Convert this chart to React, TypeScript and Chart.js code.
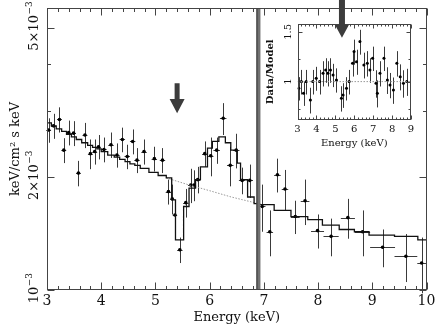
import React, { useEffect, useRef } from "react";
import { Chart, registerables } from "chart.js";

Chart.register(...registerables);

const FONT = '"DejaVu Serif", "Liberation Serif", serif';

// ---------- main spectrum (flux in units of 1e-3 keV/cm² s keV) ----------
const energy = [3.03, 3.12, 3.23, 3.31, 3.4, 3.49, 3.58, 3.7, 3.8, 3.88, 3.95, 4.05, 4.18, 4.29, 4.39, 4.48, 4.58, 4.66, 4.79, 4.98, 5.13, 5.24, 5.31, 5.36, 5.45, 5.56, 5.65, 5.71, 5.78, 5.91, 6.02, 6.13, 6.25, 6.38, 6.49, 6.6, 6.74, 6.97, 7.11, 7.25, 7.39, 7.58, 7.76, 7.99, 8.24, 8.55, 8.82, 9.19, 9.62, 9.91];
const energyErr = [0.045, 0.045, 0.045, 0.045, 0.045, 0.045, 0.045, 0.045, 0.045, 0.045, 0.045, 0.05, 0.05, 0.05, 0.05, 0.05, 0.05, 0.05, 0.05, 0.05, 0.05, 0.05, 0.04, 0.04, 0.05, 0.05, 0.05, 0.04, 0.05, 0.05, 0.05, 0.06, 0.06, 0.06, 0.06, 0.06, 0.06, 0.06, 0.06, 0.06, 0.06, 0.08, 0.08, 0.12, 0.14, 0.13, 0.14, 0.23, 0.21, 0.08];
const flux = [2.67, 2.74, 2.85, 2.36, 2.63, 2.62, 2.05, 2.59, 2.31, 2.34, 2.41, 2.37, 2.44, 2.29, 2.52, 2.27, 2.49, 2.22, 2.34, 2.24, 2.22, 1.83, 1.75, 1.585, 1.28, 1.71, 1.905, 1.905, 1.97, 2.31, 2.28, 2.36, 2.87, 2.15, 2.36, 1.96, 1.96, 1.67, 1.43, 2.03, 1.86, 1.57, 1.73, 1.44, 1.39, 1.56, 1.43, 1.3, 1.23, 1.18];
const fluxErr = [0.2, 0.21, 0.22, 0.18, 0.2, 0.2, 0.16, 0.2, 0.21, 0.18, 0.18, 0.18, 0.19, 0.17, 0.19, 0.17, 0.19, 0.17, 0.18, 0.17, 0.17, 0.14, 0.16, 0.12, 0.1, 0.15, 0.2, 0.18, 0.16, 0.18, 0.27, 0.19, 0.28, 0.26, 0.25, 0.16, 0.2, 0.24, 0.2, 0.21, 0.23, 0.16, 0.24, 0.15, 0.16, 0.19, 0.2, 0.15, 0.18, 0.2];

// best-fit model (histogram: level holds from each edge to the next)
const modelEdges = [3.0, 3.08, 3.17, 3.27, 3.36, 3.45, 3.54, 3.64, 3.75, 3.84, 3.92, 4.0, 4.12, 4.24, 4.34, 4.44, 4.53, 4.62, 4.72, 4.88, 5.05, 5.2, 5.3, 5.37, 5.52, 5.62, 5.74, 5.83, 5.96, 6.05, 6.17, 6.29, 6.39, 6.51, 6.57, 6.7, 6.82, 6.92, 7.19, 7.5, 7.81, 8.08, 8.39, 8.67, 8.94, 9.41, 9.84, 10.0];
const modelLevels = [2.79, 2.74, 2.69, 2.65, 2.6, 2.56, 2.52, 2.47, 2.43, 2.4, 2.38, 2.34, 2.29, 2.26, 2.23, 2.2, 2.17, 2.15, 2.11, 2.06, 2.02, 1.99, 1.74, 1.36, 1.67, 1.87, 1.97, 2.13, 2.39, 2.49, 2.56, 2.47, 2.36, 2.18, 1.97, 1.77, 1.7, 1.69, 1.63, 1.57, 1.54, 1.49, 1.45, 1.43, 1.4, 1.39, 1.36, 1.36];

// underlying continuum (dotted)
const contEnergy = [5.2, 5.6, 6.0, 6.4, 6.9];
const contFlux = [1.99, 1.91, 1.84, 1.77, 1.7];

const xTickValues = [3, 4, 5, 6, 7, 8, 9, 10];
const yMajorTicks = [1, 2, 5];
const yTickLabels = [["10", "−3"], ["2×10", "−3"], ["5×10", "−3"]];
const yMinorTicks = [3, 4];

// annotations
const markerEnergy = 6.9;
const arrowEnergy = 5.4;
const arrowFlux = [3.56, 3.23, 2.96]; // top, neck, tip

// ---------- inset: data / model ratio ----------
const ratioEnergy = [3.07, 3.2, 3.32, 3.46, 3.68, 3.81, 3.99, 4.17, 4.35, 4.49, 4.61, 4.74, 4.88, 5.06, 5.32, 5.41, 5.59, 5.73, 5.91, 5.99, 6.12, 6.3, 6.51, 6.69, 6.83, 6.97, 7.15, 7.22, 7.36, 7.57, 7.75, 7.89, 8.07, 8.25, 8.43, 8.6, 8.78];
const ratioValue = [0.947, 1.0, 0.91, 1.0, 0.861, 1.0, 1.028, 1.0, 1.071, 1.1, 1.071, 1.1, 1.056, 1.014, 0.873, 0.897, 0.947, 1.0, 1.162, 1.278, 1.177, 1.386, 1.146, 1.162, 1.1, 1.21, 0.987, 0.91, 1.071, 1.21, 1.014, 0.973, 0.934, 1.162, 1.041, 0.987, 1.0];
const ratioErr = [0.09, 0.1, 0.09, 0.1, 0.09, 0.1, 0.1, 0.1, 0.11, 0.11, 0.11, 0.11, 0.1, 0.1, 0.09, 0.09, 0.09, 0.1, 0.12, 0.13, 0.12, 0.14, 0.12, 0.12, 0.11, 0.12, 0.11, 0.1, 0.11, 0.12, 0.11, 0.1, 0.1, 0.12, 0.11, 0.11, 0.11];
const ratioEnergyErr = 0.05;
const insetXTicks = [3, 4, 5, 6, 7, 8, 9];
const insetYMajor = [1, 1.5];
const insetYLabels = ["1", "1.5"];
const insetYMinor = [0.8, 1.2];
const insetArrowEnergy = 5.35;
const insetArrowRatio = [1.95, 1.589, 1.429];

function drawRotated(ctx: CanvasRenderingContext2D, cx: number, cy: number, base: string, sup: string, size: number, supSize: number, weight = "") {
  ctx.save();
  ctx.translate(cx, cy);
  ctx.rotate(-Math.PI / 2);
  ctx.font = `${weight} ${size}px ${FONT}`;
  const w1 = ctx.measureText(base).width;
  ctx.textAlign = "left";
  ctx.textBaseline = "alphabetic";
  const sx = -w1 / 2;
  ctx.fillText(base, sx, size * 0.36);
  if (sup) {
    ctx.font = `${weight} ${supSize}px ${FONT}`;
    ctx.fillText(sup, sx + w1 + 0.5, size * 0.36 - size * 0.42);
  }
  ctx.restore();
}

function minorSteps(from: number, to: number, step: number) {
  const out: number[] = [];
  for (let v = from; v <= to + 1e-9; v += step) {
    const r = Math.round(v * 10) / 10;
    if (Math.abs(r - Math.round(r)) > 1e-6) out.push(r);
  }
  return out;
}

const mainPlugin = {
  id: "mainDecor",
  beforeDatasetsDraw(chart: any) {
    const { ctx, scales } = chart;
    const x = scales.x, y = scales.y;
    ctx.save();
    ctx.strokeStyle = "#3a3a3a";
    ctx.lineWidth = 1;
    energy.forEach((e, i) => {
      const px = Math.round(x.getPixelForValue(e)) + 0.5;
      const py = Math.round(y.getPixelForValue(flux[i])) + 0.5;
      ctx.beginPath();
      ctx.moveTo(x.getPixelForValue(e - energyErr[i]), py);
      ctx.lineTo(x.getPixelForValue(e + energyErr[i]), py);
      ctx.moveTo(px, y.getPixelForValue(flux[i] - fluxErr[i]));
      ctx.lineTo(px, y.getPixelForValue(flux[i] + fluxErr[i]));
      ctx.stroke();
    });
    ctx.restore();
  },
  afterDatasetsDraw(chart: any) {
    const { ctx, scales, chartArea: a } = chart;
    const x = scales.x, y = scales.y;
    ctx.save();
    // marker line
    const mx = x.getPixelForValue(markerEnergy);
    ctx.fillStyle = "#727272";
    ctx.fillRect(mx - 2, a.top, 4, a.bottom - a.top);
    ctx.fillStyle = "#333";
    ctx.fillRect(mx - 2, a.top, 1, a.bottom - a.top);
    // arrow
    const ax = x.getPixelForValue(arrowEnergy);
    const [t, n, tip] = arrowFlux.map((v) => y.getPixelForValue(v));
    ctx.fillStyle = "#3c3c3c";
    ctx.beginPath();
    ctx.moveTo(ax - 2.5, t);
    ctx.lineTo(ax + 2.5, t);
    ctx.lineTo(ax + 2.5, n);
    ctx.lineTo(ax + 7.5, n);
    ctx.lineTo(ax, tip);
    ctx.lineTo(ax - 7.5, n);
    ctx.lineTo(ax - 2.5, n);
    ctx.closePath();
    ctx.fill();
    // frame
    ctx.strokeStyle = "#444";
    ctx.lineWidth = 1;
    const L = Math.round(a.left) + 0.5, R = Math.round(a.right) - 0.5, T = Math.round(a.top) + 0.5, B = Math.round(a.bottom) - 0.5;
    ctx.strokeRect(L, T, R - L, B - T);
    // ticks
    ctx.beginPath();
    const xt = (v: number, len: number) => {
      const px = Math.round(x.getPixelForValue(v)) + 0.5;
      ctx.moveTo(px, B); ctx.lineTo(px, B - len);
      ctx.moveTo(px, T); ctx.lineTo(px, T + len);
    };
    xTickValues.forEach((v) => xt(v, 7));
    minorSteps(3, 10, 0.2).forEach((v) => xt(v, 3.5));
    const yt = (v: number, len: number) => {
      const py = Math.round(y.getPixelForValue(v)) + 0.5;
      ctx.moveTo(L, py); ctx.lineTo(L + len, py);
      ctx.moveTo(R, py); ctx.lineTo(R - len, py);
    };
    yMajorTicks.forEach((v) => yt(v, 7));
    yMinorTicks.forEach((v) => yt(v, 3.5));
    ctx.stroke();
    // labels
    ctx.fillStyle = "#111";
    ctx.font = `14px ${FONT}`;
    ctx.textAlign = "center";
    ctx.textBaseline = "middle";
    xTickValues.forEach((v) => ctx.fillText(String(v), x.getPixelForValue(v), a.bottom + 11));
    ctx.font = `13px ${FONT}`;
    ctx.fillText("Energy (keV)", (a.left + a.right) / 2, a.bottom + 28);
    yMajorTicks.forEach((v, i) => {
      drawRotated(ctx, 33, y.getPixelForValue(v) + 5, yTickLabels[i][0], yTickLabels[i][1], 13, 9);
    });
    drawRotated(ctx, 14, (a.top + a.bottom) / 2, "keV/cm² s keV", "", 13, 9);
    ctx.restore();
  },
};

const insetPlugin = {
  id: "insetDecor",
  beforeDatasetsDraw(chart: any) {
    const { ctx, scales } = chart;
    const x = scales.x, y = scales.y;
    ctx.save();
    ctx.strokeStyle = "#3a3a3a";
    ctx.lineWidth = 1;
    ratioEnergy.forEach((e, i) => {
      const px = Math.round(x.getPixelForValue(e)) + 0.5;
      const py = Math.round(y.getPixelForValue(ratioValue[i])) + 0.5;
      ctx.beginPath();
      ctx.moveTo(x.getPixelForValue(e - ratioEnergyErr), py);
      ctx.lineTo(x.getPixelForValue(e + ratioEnergyErr), py);
      ctx.moveTo(px, y.getPixelForValue(ratioValue[i] - ratioErr[i]));
      ctx.lineTo(px, y.getPixelForValue(ratioValue[i] + ratioErr[i]));
      ctx.stroke();
    });
    ctx.restore();
  },
  afterDatasetsDraw(chart: any) {
    const { ctx, scales, chartArea: a } = chart;
    const x = scales.x, y = scales.y;
    ctx.save();
    ctx.strokeStyle = "#444";
    ctx.lineWidth = 1;
    const L = Math.round(a.left) + 0.5, R = Math.round(a.right) - 0.5, T = Math.round(a.top) + 0.5, B = Math.round(a.bottom) - 0.5;
    ctx.strokeRect(L, T, R - L, B - T);
    ctx.beginPath();
    const xt = (v: number, len: number) => {
      const px = Math.round(x.getPixelForValue(v)) + 0.5;
      ctx.moveTo(px, B); ctx.lineTo(px, B - len);
      ctx.moveTo(px, T); ctx.lineTo(px, T + len);
    };
    insetXTicks.forEach((v) => xt(v, 4));
    minorSteps(3, 9, 0.2).forEach((v) => xt(v, 2));
    const yt = (v: number, len: number) => {
      const py = Math.round(y.getPixelForValue(v)) + 0.5;
      ctx.moveTo(L, py); ctx.lineTo(L + len, py);
      ctx.moveTo(R, py); ctx.lineTo(R - len, py);
    };
    insetYMajor.forEach((v) => yt(v, 4));
    insetYMinor.forEach((v) => yt(v, 2));
    ctx.stroke();
    // arrow
    const ax = x.getPixelForValue(insetArrowEnergy);
    const [t, n, tip] = insetArrowRatio.map((v) => y.getPixelForValue(v));
    ctx.fillStyle = "#3c3c3c";
    ctx.beginPath();
    ctx.moveTo(ax - 3, t);
    ctx.lineTo(ax + 3, t);
    ctx.lineTo(ax + 3, n);
    ctx.lineTo(ax + 7, n);
    ctx.lineTo(ax, tip);
    ctx.lineTo(ax - 7, n);
    ctx.lineTo(ax - 3, n);
    ctx.closePath();
    ctx.fill();
    // labels
    ctx.fillStyle = "#111";
    ctx.font = `10px ${FONT}`;
    ctx.textAlign = "center";
    ctx.textBaseline = "middle";
    insetXTicks.forEach((v) => ctx.fillText(String(v), x.getPixelForValue(v), a.bottom + 10));
    ctx.fillText("Energy (keV)", (a.left + a.right) / 2, a.bottom + 24);
    insetYMajor.forEach((v, i) => drawRotated(ctx, a.left - 10, y.getPixelForValue(v), insetYLabels[i], "", 10, 8));
    drawRotated(ctx, a.left - 28, (a.top + a.bottom) / 2, "Data/Model", "", 10, 8, "bold");
    ctx.restore();
  },
};

export default function App() {
  const mainRef = useRef<HTMLCanvasElement>(null);
  const insetRef = useRef<HTMLCanvasElement>(null);

  useEffect(() => {
    const main = new Chart(mainRef.current as HTMLCanvasElement, {
      type: "scatter",
      data: {
        datasets: [
          {
            type: "line",
            data: modelEdges.map((e, i) => ({ x: e, y: modelLevels[i] })),
            stepped: true,
            borderColor: "#111",
            borderWidth: 1.3,
            pointRadius: 0,
            fill: false,
          } as any,
          {
            type: "line",
            data: contEnergy.map((e, i) => ({ x: e, y: contFlux[i] })),
            borderColor: "#999",
            borderDash: [1.5, 1.5],
            borderWidth: 1,
            pointRadius: 0,
            fill: false,
          } as any,
          {
            type: "scatter",
            data: energy.map((e, i) => ({ x: e, y: flux[i] })),
            pointRadius: 1.8,
            backgroundColor: "#000",
            borderColor: "#000",
            borderWidth: 0,
          } as any,
        ],
      },
      options: {
        animation: false,
        responsive: false,
        devicePixelRatio: 1,
        events: [],
        layout: { padding: { left: 47, right: 9.5, top: 8, bottom: 37 } },
        scales: {
          x: { type: "linear", min: 3, max: 10, display: false },
          y: { type: "logarithmic", min: 1, max: 5.65, display: false },
        },
        plugins: { legend: { display: false }, tooltip: { enabled: false } },
      },
      plugins: [mainPlugin],
    } as any);

    const inset = new Chart(insetRef.current as HTMLCanvasElement, {
      type: "scatter",
      data: {
        datasets: [
          {
            type: "line",
            data: [{ x: 3, y: 1 }, { x: 9, y: 1 }],
            borderColor: "#999",
            borderDash: [1.5, 1.5],
            borderWidth: 1,
            pointRadius: 0,
            fill: false,
          } as any,
          {
            type: "scatter",
            data: ratioEnergy.map((e, i) => ({ x: e, y: ratioValue[i] })),
            pointRadius: 1.5,
            backgroundColor: "#000",
            borderWidth: 0,
          } as any,
        ],
      },
      options: {
        animation: false,
        responsive: false,
        devicePixelRatio: 1,
        events: [],
        layout: { padding: { left: 37.5, right: 19, top: 24, bottom: 35.5 } },
        scales: {
          x: { type: "linear", min: 3, max: 9, display: false },
          y: { type: "logarithmic", min: 0.734, max: 1.6, display: false },
        },
        plugins: { legend: { display: false }, tooltip: { enabled: false } },
      },
      plugins: [insetPlugin],
    } as any);

    return () => {
      main.destroy();
      inset.destroy();
    };
  }, []);

  return (
    <div style={{ position: "absolute", left: 0, top: 0, width: 436, height: 327, background: "#fff" }}>
      <canvas ref={mainRef} width={436} height={327} style={{ position: "absolute", left: 0, top: 0 }} />
      <canvas ref={insetRef} width={170} height={155} style={{ position: "absolute", left: 260, top: 0 }} />
    </div>
  );
}
